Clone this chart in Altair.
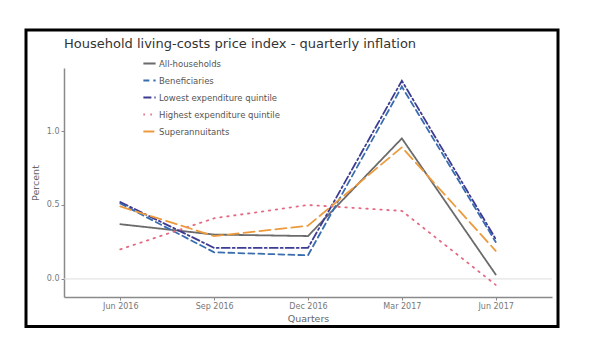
import altair as alt
import pandas as pd

quarters = ["Jun 2016", "Sep 2016", "Dec 2016", "Mar 2017", "Jun 2017"]
series_names = ["All-households", "Beneficiaries", "Lowest expenditure quintile",
                "Highest expenditure quintile", "Superannuitants"]
all_households = [0.37, 0.30, 0.29, 0.95, 0.03]
beneficiaries = [0.51, 0.18, 0.16, 1.30, 0.25]
lowest_quintile = [0.52, 0.21, 0.21, 1.34, 0.27]
highest_quintile = [0.20, 0.41, 0.50, 0.46, -0.04]
superannuitants = [0.49, 0.29, 0.36, 0.89, 0.19]

series_colors = ["#6b6b6b", "#3a6db0", "#3d3b92", "#e46a84", "#ec9a3c"]
series_dashes = [[1, 0], [6, 4], [8, 3, 2, 3], [1.5, 5.5], [11, 5]]

rows = []
for name, vals in zip(series_names, [all_households, beneficiaries, lowest_quintile,
                                     highest_quintile, superannuitants]):
    for i, v in enumerate(vals):
        rows.append({"series": name, "qi": i, "quarter": quarters[i], "value": v})
df = pd.DataFrame(rows)

W, H = 488, 229
label_expr = "[" + ",".join("'" + q + "'" for q in quarters) + "][datum.value]"

x_enc = alt.X("qi:Q", scale=alt.Scale(domain=[-0.6, 4.6], nice=False, zero=False),
              axis=alt.Axis(values=[0, 1, 2, 3, 4], labelExpr=label_expr, title="Quarters",
                            grid=False))
y_enc = alt.Y("value:Q", scale=alt.Scale(domain=[-0.122, 1.426], nice=False, zero=False),
              axis=alt.Axis(values=[0, 0.5, 1.0], format=".1f", title="Percent", grid=False))

zero = alt.Chart(pd.DataFrame({"z": [0]})).mark_rule(color="#dddddd", strokeWidth=1).encode(
    y=alt.Y("z:Q", scale=alt.Scale(domain=[-0.122, 1.426], nice=False, zero=False))
)

lines = alt.Chart(df).mark_line(strokeWidth=1.8, strokeCap="round").encode(
    x=x_enc,
    y=y_enc,
    color=alt.Color("series:N", sort=series_names,
                    scale=alt.Scale(domain=series_names, range=series_colors),
                    legend=alt.Legend(title=None, orient="none", legendX=78, legendY=-12)),
    strokeDash=alt.StrokeDash("series:N", sort=series_names,
                              scale=alt.Scale(domain=series_names, range=series_dashes),
                              legend=alt.Legend(title=None, orient="none", legendX=78, legendY=-12)),
    order="qi:Q",
)

frame = alt.Chart(pd.DataFrame({"f": [0]})).mark_rect(
    fill=None, filled=False, stroke="black", strokeWidth=3
).encode(
    x=alt.value(-38), x2=alt.value(494), y=alt.value(-38), y2=alt.value(258.5)
)

chart = alt.layer(zero, lines, frame).properties(
    width=W, height=H,
    padding={"left": 16, "top": 20, "right": 5, "bottom": 5},
    title=alt.TitleParams("Household living-costs price index - quarterly inflation",
                          anchor="start", frame="group", fontSize=13, fontWeight="normal",
                          font="DejaVu Sans", color="#333333", offset=-22),
).configure_view(stroke=None).configure_axis(
    domainColor="#8a8a8a", domainWidth=1.5, tickColor="#8a8a8a", tickSize=3,
    labelColor="#777777", labelFontSize=8, labelFont="DejaVu Sans", labelPadding=2,
    titleColor="#666666", titleFontSize=9.5, titleFont="DejaVu Sans", titleFontWeight="normal",
).configure_axisX(titlePadding=3).configure_axisY(titlePadding=6).configure_legend(
    labelFont="DejaVu Sans", labelFontSize=8.5, labelColor="#555555",
    symbolType="stroke", symbolSize=150, symbolStrokeWidth=2, rowPadding=5,
    labelOffset=2,
)

chart.save("out.html", embed_options={"renderer": "svg", "actions": False})
